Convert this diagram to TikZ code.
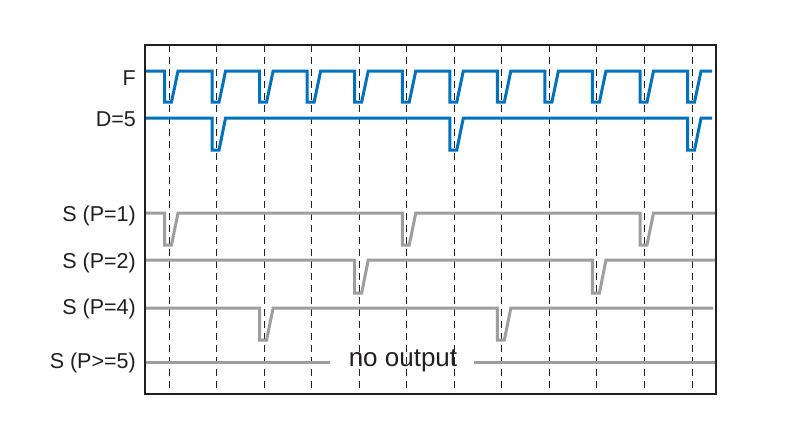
\documentclass[tikz,border=0pt]{standalone}
\usepackage{fontspec}
\setmainfont{Liberation Sans}
\definecolor{sigblue}{RGB}{0,114,188}
\definecolor{siggray}{RGB}{158,158,158}
\definecolor{txt}{RGB}{35,31,32}
\begin{document}
\begin{tikzpicture}[x=1pt,y=-1pt,
  frame/.style={draw=txt,line width=1.6pt},
  grid/.style={draw=txt,line width=1pt,dash pattern=on 7pt off 5pt},
  bluesig/.style={draw=sigblue,line width=3pt,miter limit=20},
  graysig/.style={draw=siggray,line width=3pt,miter limit=20},
  lbl/.style={anchor=east,inner sep=0pt,text=txt,font=\fontsize{21.5}{25}\selectfont},
  note/.style={inner sep=0pt,text=txt,font=\fontsize{26}{30}\selectfont}]
\useasboundingbox[fill=white] (0,0) rectangle (800,436);
% dashed clock lines
\foreach \x in {169,216.55,264.1,311.65,359.2,406.75,454.3,501.85,549.4,596.95,644.5,692.05}
  \draw[grid] (\x,45) -- (\x,394);
% F
\draw[bluesig] (145,71)
  foreach \x in {169,216.55,264.1,311.65,359.2,406.75,454.3,501.85,549.4,596.95,644.5,692.05}
  { -- ({\x-4.5},71) -- ({\x-4.5},102) -- ({\x+2.5},102) -- ({\x+9},71) } -- (712,71);
% D=5
\draw[bluesig] (145,118)
  foreach \x in {216.55,454.3,692.05}
  { -- ({\x-4.5},118) -- ({\x-4.5},150) -- ({\x+2.5},150) -- ({\x+9},118) } -- (712,118);
% S (P=1)
\draw[graysig] (145,213)
  foreach \x in {169,406.75,644.5}
  { -- ({\x-4.5},213) -- ({\x-4.5},245) -- ({\x+2.5},245) -- ({\x+9},213) } -- (716,213);
% S (P=2)
\draw[graysig] (145,260)
  foreach \x in {359.2,596.95}
  { -- ({\x-4.5},260) -- ({\x-4.5},293) -- ({\x+2.5},293) -- ({\x+9},260) } -- (716,260);
% S (P=4)
\draw[graysig] (145,308)
  foreach \x in {264.1,501.85}
  { -- ({\x-4.5},308) -- ({\x-4.5},340) -- ({\x+2.5},340) -- ({\x+9},308) } -- (713,308);
% S (P>=5)
\node[note] (no) at (403,361) {no output};
\draw[graysig] (145,362) -- (330,362);
\draw[graysig] (474,362) -- (716,362);
% frame
\draw[frame] (145,45) rectangle (716,394);
% labels
\node[lbl] (lF) at (136,78) {F};
\node[lbl] (lD) at (136,119.5) {D=5};
\node[lbl] (l1) at (136,215.5) {S (P=1)};
\node[lbl] (l2) at (136,262.5) {S (P=2)};
\node[lbl] (l4) at (136,308.5) {S (P=4)};
\node[lbl] (l5) at (136,362.5) {S (P>=5)};
\end{tikzpicture}
\end{document}
